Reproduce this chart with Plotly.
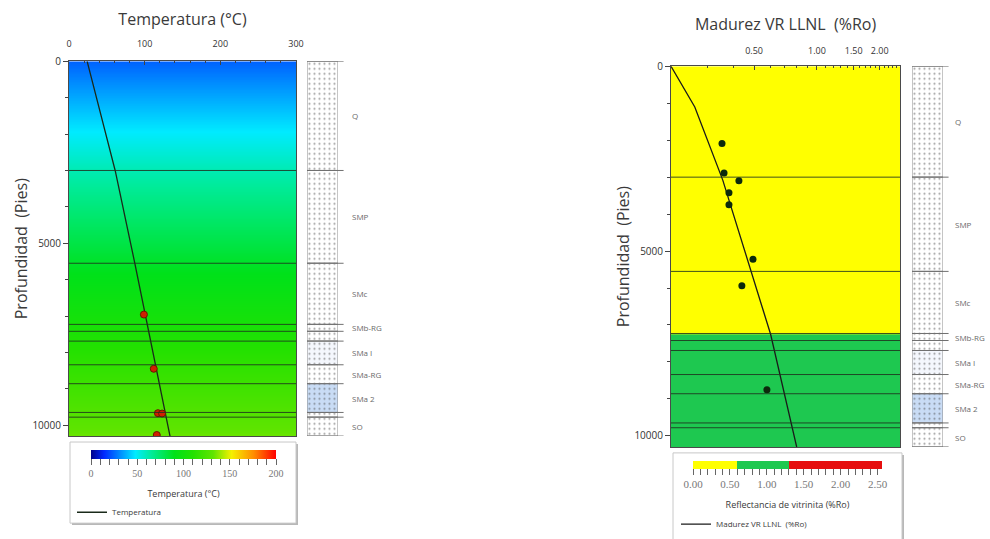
import numpy as np
import plotly.graph_objects as go

W, H = 990, 539

# ---------------- data ----------------
formation_names = ["Q", "SMP", "SMc", "SMb-RG", "", "SMa I", "SMa-RG", "SMa 2", "", "SO"]
formation_tops = [0, 3000, 5550, 7230, 7420, 7690, 8340, 8860, 9650, 9780]
formation_fill = ["#ffffff", "#ffffff", "#ffffff", "#ffffff", "#ffffff",
                  "#f4f7fd", "#ffffff", "#c9dcf5", "#ffffff", "#ffffff"]
well_bottom = 10300

temp_curve_depth = [0, 3000, 5550, 10300]
temp_curve_value = [24, 61, 87, 133.5]
temp_meas_depth = [6960, 8450, 9670, 9680, 10270]
temp_meas_value = [99, 112, 117.5, 123, 116]

ro_curve_depth = [0, 1100, 3080, 5160, 7250, 10300]
ro_curve_value = [0.20, 0.26, 0.354, 0.461, 0.600, 0.80]
ro_meas_depth = [2090, 2890, 3100, 3420, 3750, 5220, 5940, 8750]
ro_meas_value = [0.351, 0.359, 0.423, 0.379, 0.379, 0.494, 0.437, 0.576]

temp_cb_ticks = list(range(0, 201, 10))
ro_cb_ticks = [round(v, 1) for v in np.arange(0, 2.51, 0.1)]
ro_axis_ticks = [0.5, 1.0, 1.5, 2.0]
ro_minor_ticks = [round(v, 1) for v in np.arange(0.2, 2.51, 0.1)]
ro_zones = [0.6, 1.3]  # oil window limits
ro_cb_max = 2.56

# ---------------- derived ----------------
bottoms = formation_tops[1:] + [well_bottom]
thick = [b - t for t, b in zip(formation_tops, bottoms)]
mids = [(t + b) / 2 for t, b in zip(formation_tops, bottoms)]

grid_edges = np.arange(0, well_bottom + 1, 20.0)
grid_mid = (grid_edges[:-1] + grid_edges[1:]) / 2
temp_grid = np.interp(grid_mid, temp_curve_depth, temp_curve_value)
ro_grid = 10 ** np.interp(grid_mid, ro_curve_depth, np.log10(ro_curve_value))

temp_scale = [
    [0.0, "rgb(0,0,140)"], [0.07, "rgb(0,40,255)"], [0.24, "rgb(0,235,255)"],
    [0.33, "rgb(0,235,150)"], [0.45, "rgb(0,225,25)"], [0.55, "rgb(35,225,0)"],
    [0.66, "rgb(95,228,0)"], [0.76, "rgb(245,240,0)"], [0.88, "rgb(255,140,0)"],
    [1.0, "rgb(255,0,0)"]]
YEL, GRN, RED = "rgb(255,255,0)", "rgb(30,200,80)", "rgb(230,15,15)"
a, b = ro_zones[0] / ro_cb_max, ro_zones[1] / ro_cb_max
ro_scale = [[0, YEL], [a, YEL], [a, GRN], [b, GRN], [b, RED], [1, RED]]

FONT = "Open Sans, Noto Sans, Liberation Sans"
TXT = "#3a3a3a"

fig = go.Figure()

# ---------- left panel: temperature ----------
fig.add_trace(go.Heatmap(
    x=[0, 300], y=grid_edges, z=temp_grid.reshape(-1, 1), zmin=0, zmax=200,
    colorscale=temp_scale, zsmooth=False, hoverinfo="skip", xaxis="x", yaxis="y",
    colorbar=dict(orientation="h", x=183.5 / W, xanchor="center", y=1 - 455 / H, yanchor="top",
                  len=185 / W, lenmode="fraction", thickness=9, xpad=0, ypad=0, outlinewidth=0,
                  tickmode="array", tickvals=temp_cb_ticks,
                  ticktext=[str(v) if v % 50 == 0 else "" for v in temp_cb_ticks],
                  ticks="outside", ticklen=6, tickcolor="#666",
                  tickfont=dict(size=10, color="#777", family="Liberation Serif"),
                  title=dict(text="<br>Temperatura (°C)", side="bottom",
                             font=dict(size=9, color=TXT, family=FONT)))))
fig.add_trace(go.Scatter(x=temp_curve_value, y=temp_curve_depth, mode="lines",
                         line=dict(color="#1a2a1a", width=1.3), name="Temperatura",
                         legend="legend", xaxis="x", yaxis="y"))
fig.add_trace(go.Scatter(x=temp_meas_value, y=temp_meas_depth, mode="markers",
                         marker=dict(color="#d02000", size=7, line=dict(color="#6a1800", width=1)),
                         showlegend=False, xaxis="x", yaxis="y"))

# ---------- right panel: maturity ----------
fig.add_trace(go.Heatmap(
    x=[0.2, 2.5], y=grid_edges, z=ro_grid.reshape(-1, 1), zmin=0, zmax=ro_cb_max,
    colorscale=ro_scale, zsmooth=False, hoverinfo="skip", xaxis="x3", yaxis="y3",
    colorbar=dict(orientation="h", x=787.5 / W, xanchor="center", y=1 - 466 / H, yanchor="top",
                  len=189 / W, lenmode="fraction", thickness=8, xpad=0, ypad=0, outlinewidth=0,
                  tickmode="array", tickvals=ro_cb_ticks,
                  ticktext=[f"{v:.2f}" if abs(v * 2 - round(v * 2)) < 1e-6 else "" for v in ro_cb_ticks],
                  ticks="outside", ticklen=6, tickcolor="#666",
                  tickfont=dict(size=11, color="#777", family="Liberation Serif"),
                  title=dict(text="<br>Reflectancia de vitrinita (%Ro)", side="bottom",
                             font=dict(size=9, color=TXT, family=FONT)))))
fig.add_trace(go.Scatter(x=ro_curve_value, y=ro_curve_depth, mode="lines",
                         line=dict(color="#1a1a1a", width=1.3), name="Madurez VR LLNL  (%Ro)",
                         legend="legend2", xaxis="x3", yaxis="y3"))
fig.add_trace(go.Scatter(x=ro_meas_value, y=ro_meas_depth, mode="markers",
                         marker=dict(color="#0c2a0c", size=7),
                         showlegend=False, xaxis="x3", yaxis="y3"))

# ---------- lithology columns ----------
for xa, ya in (("x2", "y2"), ("x4", "y4")):
    fig.add_trace(go.Bar(
        x=[0.5] * len(thick), y=thick, base=formation_tops, width=1,
        marker=dict(color=formation_fill, line=dict(color="#8a8a8a", width=1),
                    pattern=dict(shape=".", fgcolor="#cdd2d8", bgcolor=formation_fill,
                                 size=5, solidity=0.15)),
        showlegend=False, hoverinfo="skip", xaxis=xa, yaxis=ya))

shapes = []
for xd, yr in (("x domain", "y"), ("x3 domain", "y3")):
    for t in formation_tops[1:]:
        shapes.append(dict(type="line", xref=xd, yref=yr, x0=0, x1=1, y0=t, y1=t,
                           line=dict(color="rgba(30,50,30,0.85)", width=1)))
for xd, yr in (("x2 domain", "y2"), ("x4 domain", "y4")):
    for t in formation_tops + [well_bottom]:
        shapes.append(dict(type="line", xref=xd, yref=yr, x0=0, x1=1.18, y0=t, y1=t,
                           line=dict(color="#707070", width=1)))

# legend boxes
for (x0, x1, y0, y1) in ((70, 296, 447, 529), (673, 902, 458, 548)):
    shapes.append(dict(type="rect", xref="paper", yref="paper", layer="below",
                       x0=(x0 + 2) / W, x1=(x1 + 2) / W, y0=1 - (y1 + 2) / H, y1=1 - (y0 + 2) / H,
                       line=dict(width=0), fillcolor="#b8b8b8"))
    shapes.append(dict(type="rect", xref="paper", yref="paper", layer="below",
                       x0=x0 / W, x1=x1 / W, y0=1 - y1 / H, y1=1 - y0 / H,
                       line=dict(color="#c8c8c8", width=1), fillcolor="white"))

annotations = []
for xp, yr in ((350, "y2"), (953, "y4")):
    for name, m in zip(formation_names, mids):
        if name:
            annotations.append(dict(text=name, xref="paper", yref=yr, x=xp / W, y=m,
                                    xanchor="left", yanchor="middle", showarrow=False,
                                    font=dict(size=8, color="#6a6a6a", family=FONT)))

ydom_l = [1 - 441 / H, 1 - 62 / H]
ydom_r = [1 - 452 / H, 1 - 67 / H]
common_y = dict(range=[well_bottom, 0], dtick=5000, tickformat="d", ticks="outside", ticklen=5,
                tickcolor="#444",
                minor=dict(dtick=1000, ticks="outside", ticklen=3, tickcolor="#444"),
                showline=True, mirror=True, linecolor="#4a4a4a", showgrid=False, zeroline=False,
                tickfont=dict(size=10, color="#333", family=FONT), automargin=False)
hidden = dict(visible=False, showgrid=False, zeroline=False, automargin=False)

fig.update_layout(
    width=W, height=H, margin=dict(l=0, r=0, t=0, b=0),
    paper_bgcolor="white", plot_bgcolor="white", barmode="overlay",
    font=dict(family=FONT, color=TXT),
    xaxis=dict(domain=[69 / W, 296 / W], range=[0, 300], side="top", anchor="y",
               dtick=100, ticks="inside", ticklen=4, tickcolor="#444",
               minor=dict(dtick=20, ticks="inside", ticklen=2, tickcolor="#444"),
               showline=True, mirror=True, linecolor="#4a4a4a", showgrid=False, zeroline=False,
               tickfont=dict(size=9, color="#333", family=FONT), ticklabelstandoff=10,
               title=dict(text="Temperatura (°C)", font=dict(size=16, color=TXT), standoff=7),
               automargin=False),
    yaxis=dict(domain=ydom_l, anchor="x",
               title=dict(text="Profundidad  (Pies)", font=dict(size=16, color=TXT), standoff=0),
               **common_y),
    xaxis2=dict(domain=[307 / W, 338 / W], range=[0, 1], anchor="y2", **hidden),
    yaxis2=dict(domain=ydom_l, range=[well_bottom, 0], anchor="x2", **hidden),
    xaxis3=dict(domain=[671 / W, 900 / W], type="log", range=[np.log10(0.2), np.log10(2.5)],
                side="top", anchor="y3", tickmode="array", tickvals=ro_axis_ticks,
                ticktext=[f"{v:.2f}" for v in ro_axis_ticks], ticks="inside", ticklen=4,
                tickcolor="#444",
                minor=dict(tickmode="array", tickvals=ro_minor_ticks, ticks="inside", ticklen=2,
                           tickcolor="#444"),
                showline=True, mirror=True, linecolor="#4a4a4a", showgrid=False, zeroline=False,
                tickfont=dict(size=9, color="#333", family=FONT), ticklabelstandoff=8,
                title=dict(text="Madurez VR LLNL  (%Ro)", font=dict(size=16, color=TXT), standoff=9),
                automargin=False),
    yaxis3=dict(domain=ydom_r, anchor="x3",
                title=dict(text="Profundidad  (Pies)", font=dict(size=16, color=TXT), standoff=0),
                **common_y),
    xaxis4=dict(domain=[912 / W, 943 / W], range=[0, 1], anchor="y4", **hidden),
    yaxis4=dict(domain=ydom_r, range=[well_bottom, 0], anchor="x4", **hidden),
    legend=dict(x=72 / W, y=1 - 518 / H, xanchor="left", yanchor="middle",
                bgcolor="rgba(0,0,0,0)", font=dict(size=8, color=TXT, family=FONT)),
    legend2=dict(x=676 / W, y=1 - 530 / H, xanchor="left", yanchor="middle",
                 bgcolor="rgba(0,0,0,0)", font=dict(size=8, color=TXT, family=FONT)),
    shapes=shapes, annotations=annotations,
)

fig.write_html("out.html")
